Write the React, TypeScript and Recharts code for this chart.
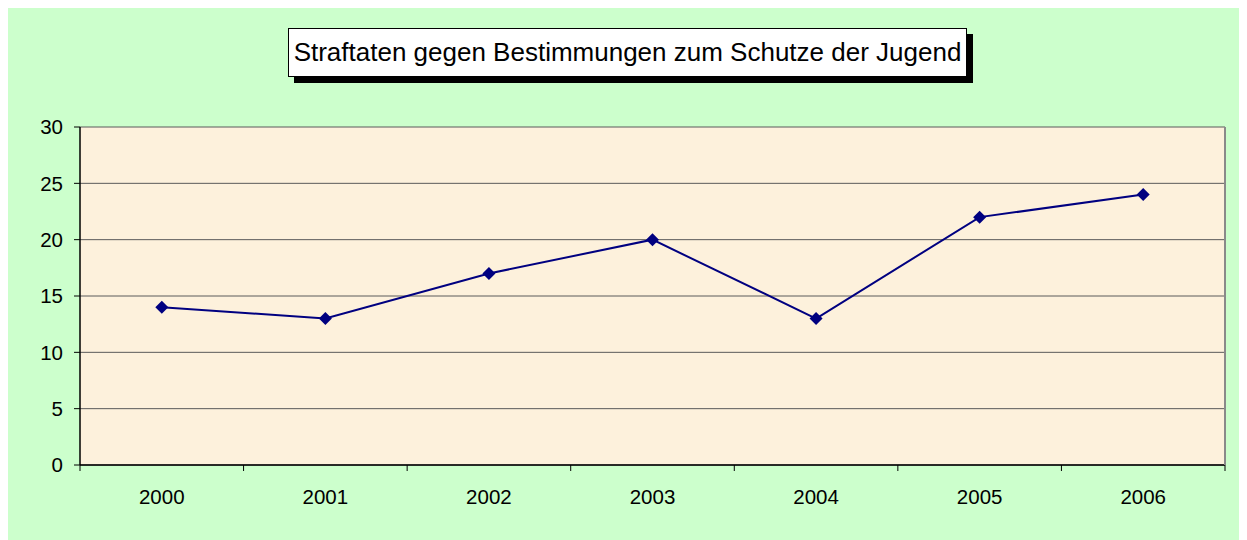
import { LineChart, Line, XAxis, YAxis, CartesianGrid } from "recharts";

const years = ["2000", "2001", "2002", "2003", "2004", "2005", "2006"];
const counts = [14, 13, 17, 20, 13, 22, 24];
const yTicks = [0, 5, 10, 15, 20, 25, 30];

const data = years.map((year, i) => ({ year, value: counts[i] }));

const FONT = "'Liberation Sans', Arial, sans-serif";
const TICK_SIZE = 6;
const X_TICK_MARGIN = 18;

// category label in the middle of the band, tick marks on the band edges (Excel style)
const XTick = (props: any) => {
  const { x, y, payload, index, visibleTicksCount } = props;
  const half = payload?.offset || (1239 - 72 - 22) / years.length / 2;
  const axisY = y - TICK_SIZE - X_TICK_MARGIN;
  const last = index === visibleTicksCount - 1;
  return (
    <g>
      <line x1={x - half} x2={x - half} y1={axisY} y2={axisY + TICK_SIZE} stroke="#000" />
      {last && (
        <line x1={x + half} x2={x + half} y1={axisY} y2={axisY + TICK_SIZE} stroke="#000" />
      )}
      <text x={x} y={y} dy="0.71em" textAnchor="middle" fill="#000" fontSize={20.5} fontFamily={FONT}>
        {payload.value}
      </text>
    </g>
  );
};

const Diamond = (props: any) => {
  const { cx, cy } = props;
  if (cx == null || cy == null) return null;
  const r = 6.5;
  return (
    <path
      d={`M${cx},${cy - r}L${cx + r},${cy}L${cx},${cy + r}L${cx - r},${cy}Z`}
      fill="#000080"
      stroke="none"
    />
  );
};

export default function App() {
  return (
    <div
      style={{
        position: "relative",
        width: 1239,
        height: 532,
        background: "#CCFFCC",
        fontFamily: FONT,
      }}
    >
      <div
        style={{
          position: "absolute",
          left: 280,
          top: 20,
          width: 679,
          height: 49,
          boxSizing: "border-box",
          border: "1px solid #000",
          background: "#fff",
          boxShadow: "6px 6px 0 #000",
          display: "flex",
          alignItems: "center",
          justifyContent: "center",
          fontSize: 26,
          color: "#000",
          whiteSpace: "nowrap",
          zIndex: 1,
        }}
      >
        Straftaten gegen Bestimmungen zum Schutze der Jugend
      </div>
      <LineChart
        width={1239}
        height={532}
        data={data}
        margin={{ top: 119, right: 21, bottom: 35, left: 32 }}
      >
        <CartesianGrid
          yAxisId="l"
          vertical={false}
          stroke="#5a5a5a"
          fill="#FDF1DC"
          fillOpacity={1}
        />
        <XAxis
          dataKey="year"
          scale="band"
          height={40}
          axisLine={{ stroke: "#000", strokeWidth: 1.5 }}
          tickLine={false}
          tickSize={TICK_SIZE}
          tickMargin={X_TICK_MARGIN}
          tick={<XTick />}
          interval={0}
        />
        <YAxis
          yAxisId="l"
          width={40}
          domain={[0, 30]}
          ticks={yTicks}
          axisLine={{ stroke: "#000", strokeWidth: 1.5 }}
          tickLine={{ stroke: "#000" }}
          tickSize={TICK_SIZE}
          tickMargin={11}
          tick={{ fill: "#000", fontSize: 20.5, fontFamily: FONT }}
        />
        <YAxis
          yAxisId="r"
          orientation="right"
          width={1}
          domain={[0, 30]}
          tick={false}
          tickLine={false}
          axisLine={{ stroke: "#8a8a8a", strokeWidth: 2 }}
        />
        <Line
          yAxisId="l"
          type="linear"
          dataKey="value"
          stroke="#000080"
          strokeWidth={2}
          dot={<Diamond />}
          activeDot={false}
          isAnimationActive={false}
        />
      </LineChart>
    </div>
  );
}
